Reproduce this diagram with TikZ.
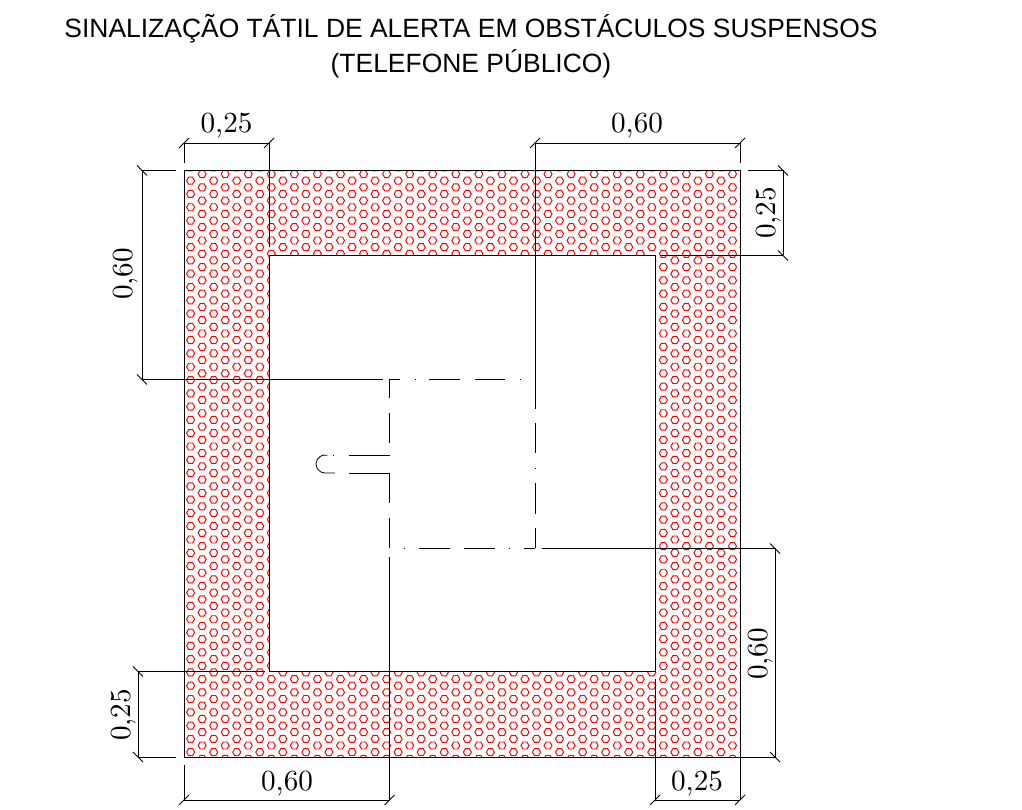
\documentclass[tikz,border=0pt]{standalone}
\usepackage{fontspec}
\newfontfamily\titlefont{Liberation Sans}
\tikzset{
  dimline/.style={draw=black,line width=0.5pt},
  hexmark/.style={draw=red,line width=0.55pt},
  titletext/.style={inner sep=0pt,anchor=center,font=\titlefont\fontsize{15.05}{18}\selectfont},
  dimtext/.style={inner sep=0pt,anchor=center,scale=1.66,font=\rmfamily\fontsize{10}{12}\selectfont}
}
\newcommand{\ticka}[1]{\draw[dimline] ([shift={(-5,5)}]#1) -- ([shift={(5,-5)}]#1);}
\newcommand{\tickb}[1]{\draw[dimline] ([shift={(-5,-5)}]#1) -- ([shift={(5,5)}]#1);}
\begin{document}
\begin{tikzpicture}[x=0.02cm,y=-0.02cm]
\useasboundingbox (0,0) rectangle (1022,810);
\fill[white] (0,0) rectangle (1022,810);
% main corners
\coordinate (ol) at (184,170.5);
\coordinate (or) at (740,757);
\coordinate (il) at (269,255.5);
\coordinate (ir) at (655,671.5);
% tactile band
\begin{scope}
\clip (ol) rectangle (or);
\foreach \i in {0,...,48}{
  \pgfmathsetmacro{\cx}{190.6+11.53*\i}
  \pgfmathsetmacro{\cy}{int(mod(\i,2))==0 ? 167.4 : 160.75}
  \foreach \k in {0,...,45}{
    \pgfmathsetmacro{\py}{\cy+13.29*\k}
    \draw[hexmark] (\cx+4,\py) -- (\cx+2,\py-3.5) -- (\cx-2,\py-3.5) -- (\cx-4,\py) -- (\cx-2,\py+3.5) -- (\cx+2,\py+3.5) -- cycle;
  }
}
\end{scope}
\fill[white] (il) rectangle (ir);
% outline
\draw[dimline] (184,170.5) -- (740,170.5);
\draw[dimline] (184,170.5) -- (184,757);
\draw[dimline] (740,170.5) -- (740,800);
\draw[dimline] (184,757) -- (775,757);
\draw[dimline] (655,255.5) -- (269,255.5) -- (269,671.5) -- (655,671.5) -- (655,255.5);
% extension lines
\draw[dimline] (184,143) -- (184,163);
\draw[dimline] (269,143) -- (269,247);
\draw[dimline] (740,143) -- (740,163);
\draw[dimline] (535,143) -- (535,409);
\draw[dimline] (142,170.5) -- (176,170.5);
\draw[dimline] (142,379.5) -- (383,379.5);
\draw[dimline] (748,170.5) -- (783,170.5);
\draw[dimline] (660,255.5) -- (783,255.5);
\draw[dimline] (138,671.5) -- (265,671.5);
\draw[dimline] (138,757) -- (176,757);
\draw[dimline] (184,765) -- (184,800);
\draw[dimline] (389.5,557) -- (389.5,800);
\draw[dimline] (655,679) -- (655,800);
\draw[dimline] (542,548.5) -- (775,548.5);
% dimension lines
\coordinate (a1) at (184,143); \coordinate (a2) at (269,143);
\coordinate (b1) at (535,143); \coordinate (b2) at (740,143);
\coordinate (c1) at (142,170.5); \coordinate (c2) at (142,379.5);
\coordinate (d1) at (783,170.5); \coordinate (d2) at (783,255.5);
\coordinate (e1) at (775,548.5); \coordinate (e2) at (775,757);
\coordinate (f1) at (138,671.5); \coordinate (f2) at (138,757);
\coordinate (g1) at (184,800); \coordinate (g2) at (389.5,800);
\coordinate (h1) at (655,800); \coordinate (h2) at (740,800);
\draw[dimline] (a1) -- (a2); \ticka{a1} \ticka{a2}
\draw[dimline] (b1) -- (b2); \ticka{b1} \ticka{b2}
\draw[dimline] (g1) -- (g2); \ticka{g1} \ticka{g2}
\draw[dimline] (h1) -- (h2); \ticka{h1} \ticka{h2}
\draw[dimline] (c1) -- (c2); \tickb{c1} \tickb{c2}
\draw[dimline] (d1) -- (d2); \tickb{d1} \tickb{d2}
\draw[dimline] (e1) -- (e2); \tickb{e1} \tickb{e2}
\draw[dimline] (f1) -- (f2); \tickb{f1} \tickb{f2}
% telephone: dash-dot box
\draw[dimline] (389.5,398) -- (389.5,379.5) -- (400,379.5);
\draw[dimline] (414.5,379.5) -- (415.5,379.5);
\draw[dimline] (429,379.5) -- (460,379.5);
\draw[dimline] (475,379.5) -- (505,379.5);
\draw[dimline] (519.5,379.5) -- (520.5,379.5);
\draw[dimline] (389.5,413) -- (389.5,443);
\draw[dimline] (389.5,473) -- (389.5,503);
\draw[dimline] (389.5,518) -- (389.5,548);
\draw[dimline] (535,423) -- (535,453);
\draw[dimline] (535,468.5) -- (535,469.5);
\draw[dimline] (535,483) -- (535,514);
\draw[dimline] (535,528) -- (535,548.5);
\draw[dimline] (403.5,548.5) -- (404.5,548.5);
\draw[dimline] (419,548.5) -- (450,548.5);
\draw[dimline] (464,548.5) -- (495,548.5);
\draw[dimline] (508.5,548.5) -- (509.5,548.5);
\draw[dimline] (524,548.5) -- (535,548.5);
% telephone: handset
\draw[dimline] (349,455) -- (389.5,455);
\draw[dimline] (349,473) -- (389.5,473);
\draw[dimline] (333,455) -- (334,455);
\draw[line width=0.45pt] (335,473) -- (325,473) arc[start angle=90,end angle=285,x radius=9,y radius=9];
% labels
\node[titletext] (title1) at (471,29) {SINALIZAÇÃO TÁTIL DE ALERTA EM OBSTÁCULOS SUSPENSOS};
\node[titletext] (title2) at (471,64) {(TELEFONE PÚBLICO)};
\node[dimtext] (la) at (226.5,126) {0,25};
\node[dimtext] (lb) at (637,126) {0,60};
\node[dimtext] (lg) at (287,784) {0,60};
\node[dimtext] (lh) at (697,784) {0,25};
\node[dimtext,rotate=90] (lc) at (126,274) {0,60};
\node[dimtext,rotate=90] (ld) at (769,213) {0,25};
\node[dimtext,rotate=90] (le) at (761,654) {0,60};
\node[dimtext,rotate=90] (lf) at (124,715) {0,25};
\end{tikzpicture}
\end{document}
